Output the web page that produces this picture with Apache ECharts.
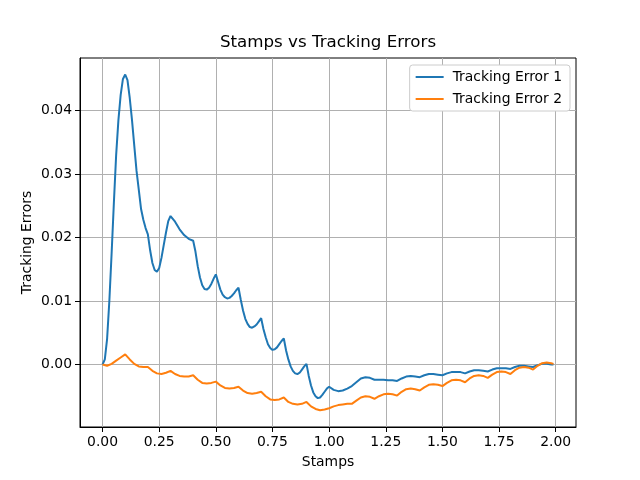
<!DOCTYPE html>
<html>
<head>
<meta charset="utf-8">
<script src="https://cdn.jsdelivr.net/npm/echarts@6/dist/echarts.min.js"></script>
<style>html,body{margin:0;padding:0;background:#fff}#c{width:640px;height:480px}</style>
</head>
<body>
<div id="c"></div>
<script>
const stamps1 = [0.00,0.01,0.02,0.03,0.04,0.05,0.06,0.07,0.08,0.09,0.10,0.11,0.12,0.13,0.14,0.15,0.16,0.17,0.18,0.19,
0.20,0.21,0.22,0.23,0.24,0.25,0.26,0.27,0.28,0.29,0.30,0.32,0.34,0.36,0.38,0.40,0.41,0.42,0.43,0.44,0.45,0.46,0.47,0.48,0.49,
0.50,0.51,0.52,0.53,0.54,0.55,0.56,0.57,0.58,0.59,0.60,0.61,0.62,0.63,0.64,0.65,0.66,0.67,0.68,0.69,
0.70,0.71,0.72,0.73,0.74,0.75,0.76,0.77,0.78,0.79,0.80,0.81,0.82,0.83,0.84,0.85,0.86,0.87,0.88,0.89,
0.90,0.91,0.92,0.93,0.94,0.95,0.96,0.97,0.98,0.99,1.00,
1.02,1.04,1.06,1.08,1.10,1.12,1.14,1.16,1.18,1.20,1.22,1.24,1.26,1.28,1.30,1.32,1.34,1.36,1.38,1.40,
1.42,1.44,1.46,1.48,1.50,1.52,1.54,1.56,1.58,1.60,1.62,1.64,1.66,1.68,1.70,1.72,1.74,1.76,1.78,1.80,
1.82,1.84,1.86,1.88,1.90,1.92,1.94,1.96,1.98,1.99];
const trackingError1 = [0.0000,0.0008,0.0040,0.0100,0.0175,0.0255,0.0330,0.0385,0.0425,0.0450,0.0457,0.0448,0.0420,0.0385,0.0345,0.0305,0.0275,0.0245,0.0228,0.0215,
0.0205,0.0180,0.0160,0.0149,0.0146,0.0152,0.0168,0.0188,0.0208,0.0226,0.0234,0.0225,0.0213,0.0204,0.0198,0.0195,0.0178,0.0155,0.0137,0.0125,0.0119,0.0118,0.0121,0.0127,0.0135,
0.0142,0.0130,0.0118,0.0110,0.0106,0.0104,0.0105,0.0108,0.0112,0.0117,0.0121,0.0102,0.0085,0.0072,0.0064,0.0059,0.0058,0.0060,0.0063,0.0068,
0.0073,0.0056,0.0043,0.0032,0.0026,0.0023,0.0024,0.0027,0.0032,0.0037,0.0041,0.0022,0.0008,-0.0003,-0.0010,-0.0014,-0.0015,-0.0013,-0.0008,-0.0003,
0.0001,-0.0018,-0.0033,-0.0044,-0.0050,-0.0053,-0.0052,-0.0048,-0.0043,-0.0038,-0.0035,
-0.0040,-0.0042,-0.0041,-0.0038,-0.0034,-0.0028,-0.0022,-0.0020,-0.0021,-0.0024,-0.0024,-0.0024,-0.0025,-0.0025,-0.0026,-0.0022,-0.0019,-0.0018,-0.0019,-0.0020,
-0.0017,-0.0015,-0.0015,-0.0016,-0.0017,-0.0014,-0.0012,-0.0012,-0.0012,-0.0014,-0.0011,-0.0009,-0.0009,-0.0010,-0.0011,-0.0008,-0.0006,-0.0006,-0.0006,-0.0007,
-0.0004,-0.0002,-0.0002,-0.0003,-0.0004,-0.0001,0.0001,0.0001,0.0000,0.0000];

const stamps2 = [0.00,0.02,0.04,0.06,0.08,0.10,0.12,0.14,0.16,0.18,0.20,0.22,0.24,0.26,0.28,0.30,0.32,0.34,0.36,0.38,
0.40,0.42,0.44,0.46,0.48,0.50,0.52,0.54,0.56,0.58,0.60,0.62,0.64,0.66,0.68,0.70,0.72,0.74,0.76,0.78,
0.80,0.82,0.84,0.86,0.88,0.90,0.92,0.94,0.96,0.98,1.00,1.02,1.04,1.06,1.08,1.10,1.12,1.14,1.16,1.18,
1.20,1.22,1.24,1.26,1.28,1.30,1.32,1.34,1.36,1.38,1.40,1.42,1.44,1.46,1.48,1.50,1.52,1.54,1.56,1.58,
1.60,1.62,1.64,1.66,1.68,1.70,1.72,1.74,1.76,1.78,1.80,1.82,1.84,1.86,1.88,1.90,1.92,1.94,1.96,1.98,1.99];
const trackingError2 = [0.0000,-0.0002,0.0001,0.0006,0.0011,0.0016,0.0008,0.0001,-0.0003,-0.0004,-0.0004,-0.0010,-0.0014,-0.0015,-0.0013,-0.0010,-0.0015,-0.0018,-0.0019,-0.0019,
-0.0017,-0.0024,-0.0029,-0.0030,-0.0029,-0.0027,-0.0033,-0.0037,-0.0038,-0.0037,-0.0035,-0.0041,-0.0045,-0.0046,-0.0045,-0.0043,-0.0050,-0.0055,-0.0056,-0.0055,
-0.0052,-0.0059,-0.0062,-0.0063,-0.0062,-0.0059,-0.0066,-0.0070,-0.0072,-0.0071,-0.0069,-0.0066,-0.0064,-0.0063,-0.0062,-0.0062,-0.0057,-0.0052,-0.0050,-0.0051,
-0.0054,-0.0050,-0.0047,-0.0046,-0.0047,-0.0049,-0.0043,-0.0039,-0.0038,-0.0039,-0.0041,-0.0036,-0.0032,-0.0031,-0.0032,-0.0034,-0.0029,-0.0025,-0.0024,-0.0025,
-0.0028,-0.0022,-0.0018,-0.0017,-0.0018,-0.0021,-0.0016,-0.0012,-0.0011,-0.0012,-0.0015,-0.0009,-0.0005,-0.0004,-0.0005,-0.0008,-0.0002,0.0002,0.0003,0.0002,0.0001];

const xTicks = [0.00,0.25,0.50,0.75,1.00,1.25,1.50,1.75,2.00];
const yTicks = [0.00,0.01,0.02,0.03,0.04];

const FONT = 'DejaVu Sans';
const chart = echarts.init(document.getElementById('c'), null, {renderer:'canvas'});
chart.setOption({
  animation:false,
  backgroundColor:'#ffffff',
  textStyle:{fontFamily:FONT},
  title:{text:'Stamps vs Tracking Errors', left:'328', textAlign:'center', top:34, padding:0,
    textStyle:{fontFamily:FONT, fontSize:16.7, fontWeight:'normal', color:'#000'}},
  legend:{right:70, top:65, orient:'vertical', padding:[5,8,5,6], itemGap:8,
    backgroundColor:'#fff', borderColor:'#cccccc', borderWidth:1, borderRadius:3,
    itemWidth:28, itemHeight:14, icon:'path://M0,6 L28,6 L28,8 L0,8 Z',
    textStyle:{fontFamily:FONT, fontSize:13.9, color:'#000', padding:[0,0,0,4]},
    data:['Tracking Error 1','Tracking Error 2']},
  grid:{left:80, right:64, top:58, bottom:53, show:true, borderColor:'#000', borderWidth:1, backgroundColor:'transparent'},
  xAxis:{type:'value', min:-0.0995, max:2.0895,
    name:'Stamps', nameLocation:'middle', nameGap:28, nameMoveOverlap:false,
    nameTextStyle:{fontFamily:FONT, fontSize:13.9, color:'#000'},
    axisLine:{show:true, onZero:false, lineStyle:{color:'#000', width:1}},
    axisTick:{show:true, length:5, lineStyle:{color:'#000'}, customValues:xTicks},
    axisLabel:{customValues:xTicks, margin:8, fontFamily:FONT, fontSize:13.9, color:'#000', formatter:v=>v.toFixed(2)},
    splitLine:{show:true, lineStyle:{color:'#b0b0b0', width:1}}},
  yAxis:{type:'value', min:-0.00985, max:0.0483,
    name:'Tracking Errors', nameLocation:'middle', nameGap:46, nameRotate:90, nameMoveOverlap:false,
    nameTextStyle:{fontFamily:FONT, fontSize:13.9, color:'#000'},
    axisLine:{show:true, onZero:false, lineStyle:{color:'#000', width:1}},
    axisTick:{show:true, length:5, lineStyle:{color:'#000'}, customValues:yTicks},
    axisLabel:{customValues:yTicks, margin:8, fontFamily:FONT, fontSize:13.9, color:'#000', formatter:v=>v.toFixed(2)},
    splitLine:{show:true, lineStyle:{color:'#b0b0b0', width:1}}},
  series:[
    {name:'Tracking Error 1', type:'line', symbol:'none', showSymbol:false, color:'#1f77b4',
      lineStyle:{width:2, color:'#1f77b4'}, data:stamps1.map((t,i)=>[t,trackingError1[i]])},
    {name:'Tracking Error 2', type:'line', symbol:'none', showSymbol:false, color:'#ff7f0e',
      lineStyle:{width:2, color:'#ff7f0e'}, data:stamps2.map((t,i)=>[t,trackingError2[i]])}
  ]
});
</script>
</body>
</html>
